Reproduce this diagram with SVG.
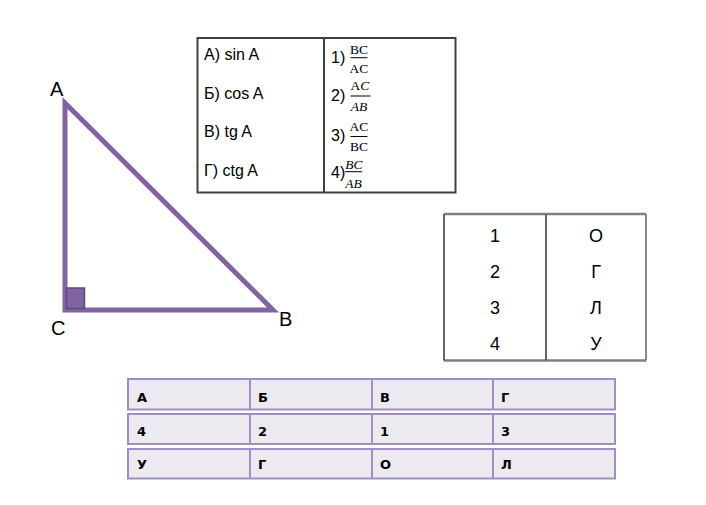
<svg xmlns="http://www.w3.org/2000/svg" width="706" height="505" viewBox="0 0 706 505">
<style>
.lbl{font-family:"Liberation Sans",Arial,sans-serif;font-size:20px;fill:#000}
.t1{font-family:"Liberation Sans",Arial,sans-serif;font-size:16px;fill:#000}
.fr{font-family:"Liberation Serif","Times New Roman",serif;font-size:13.5px;fill:#000;text-anchor:middle}
.it{font-style:italic}
.fl{stroke:#000;stroke-width:1}
.t2{font-family:"Liberation Sans",Arial,sans-serif;font-size:18px;fill:#000;text-anchor:middle}
.t3{font-family:"DejaVu Sans",Verdana,sans-serif;font-size:13px;font-weight:bold;fill:#000}
.row{fill:#ECE9F0;stroke:#A08DC2;stroke-width:2}
.col{stroke:#A08DC2;stroke-width:2}
</style>
<rect width="706" height="505" fill="#fff"/>
<g id="triangle">
<polygon points="65,103 65,310 273,310" fill="none" stroke="#8064A2" stroke-width="5" stroke-linejoin="miter"/>
<rect x="66.5" y="288" width="18" height="20.5" fill="#8064A2" stroke="#5F497A" stroke-width="1.5"/>
<text class="lbl" x="50" y="96">A</text>
<text class="lbl" x="51" y="335">C</text>
<text class="lbl" x="279" y="326">B</text>
</g>
<g id="table-functions">
<rect x="197.5" y="38" width="258" height="154.5" fill="none" stroke="#404040" stroke-width="2"/>
<line x1="324" y1="38" x2="324" y2="192.5" stroke="#404040" stroke-width="2"/>
<text class="t1" x="204" y="60">А) sin A</text>
<text class="t1" x="204" y="99">Б) cos A</text>
<text class="t1" x="204" y="137">В) tg A</text>
<text class="t1" x="204" y="176">Г) ctg A</text>
<text class="t1" x="331" y="63">1)</text>
<text class="fr" x="359" y="53.5">BC</text>
<line class="fl" x1="350.5" y1="57.7" x2="367.5" y2="57.7"/>
<text class="fr" x="359" y="72.5">AC</text>
<text class="t1" x="331" y="101">2)</text>
<text class="fr" x="360" y="90">A<tspan class="it">C</tspan></text>
<line class="fl" x1="350.5" y1="96" x2="370.5" y2="96"/>
<text class="fr it" x="359" y="111">AB</text>
<text class="t1" x="331" y="141">3)</text>
<text class="fr" x="359" y="131">AC</text>
<line class="fl" x1="350.5" y1="136.5" x2="367.5" y2="136.5"/>
<text class="fr" x="359" y="150.5">BC</text>
<text class="t1" x="331" y="178">4)</text>
<text class="fr it" x="354" y="168.5">BC</text>
<line class="fl" x1="345" y1="171.7" x2="362" y2="171.7"/>
<text class="fr it" x="353.5" y="187.5">AB</text>
</g>
<g id="table-numbers">
<line x1="444" y1="214" x2="646" y2="214" stroke="#808080" stroke-width="2.5"/>
<line x1="444" y1="360.5" x2="646" y2="360.5" stroke="#808080" stroke-width="2.5"/>
<line x1="444" y1="214" x2="444" y2="360.5" stroke="#333" stroke-width="1.5"/>
<line x1="546" y1="214" x2="546" y2="360.5" stroke="#666" stroke-width="2"/>
<line x1="646" y1="214" x2="646" y2="360.5" stroke="#666" stroke-width="1.5"/>
<text class="t2" x="495" y="242">1</text>
<text class="t2" x="495" y="278">2</text>
<text class="t2" x="495" y="314">3</text>
<text class="t2" x="495" y="350">4</text>
<text class="t2" x="596" y="242">О</text>
<text class="t2" x="596" y="278">Г</text>
<text class="t2" x="596" y="314">Л</text>
<text class="t2" x="596" y="350">У</text>
</g>
<g id="table-answer">
<rect class="row" x="128" y="379" width="487" height="30.5"/>
<rect class="row" x="128" y="414" width="487" height="30"/>
<rect class="row" x="128" y="449" width="487" height="29.5"/>
<g class="col">
<line x1="250" y1="379" x2="250" y2="409.5"/><line x1="372" y1="379" x2="372" y2="409.5"/><line x1="493" y1="379" x2="493" y2="409.5"/>
<line x1="250" y1="414" x2="250" y2="444"/><line x1="372" y1="414" x2="372" y2="444"/><line x1="493" y1="414" x2="493" y2="444"/>
<line x1="250" y1="449" x2="250" y2="478.5"/><line x1="372" y1="449" x2="372" y2="478.5"/><line x1="493" y1="449" x2="493" y2="478.5"/>
</g>
<text class="t3" x="137" y="402">А</text>
<text class="t3" x="258" y="402">Б</text>
<text class="t3" x="380" y="402">В</text>
<text class="t3" x="501" y="402">Г</text>
<text class="t3" x="137" y="435.5">4</text>
<text class="t3" x="258" y="435.5">2</text>
<text class="t3" x="380" y="435.5">1</text>
<text class="t3" x="501" y="435.5">3</text>
<text class="t3" x="137" y="469">У</text>
<text class="t3" x="258" y="469">Г</text>
<text class="t3" x="380" y="469">О</text>
<text class="t3" x="501" y="469">Л</text>
</g>
</svg>
